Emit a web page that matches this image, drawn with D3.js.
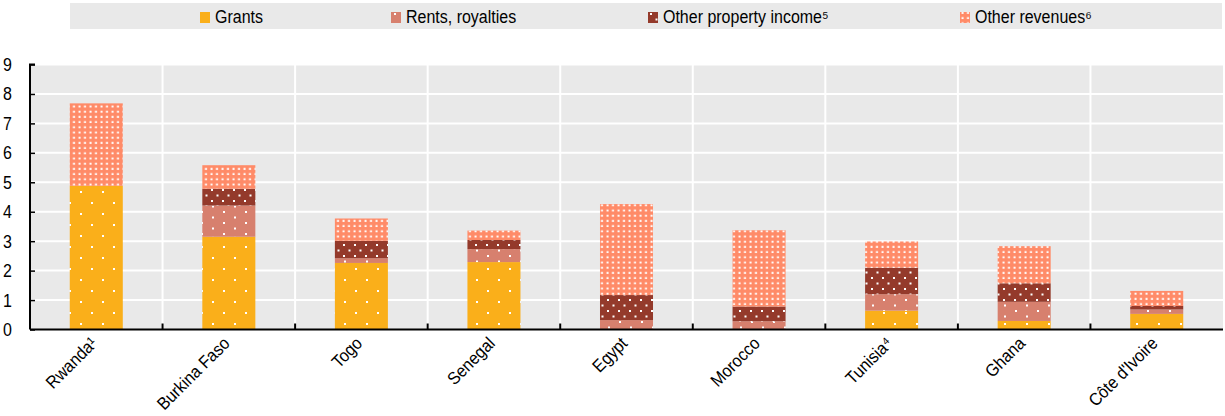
<!DOCTYPE html>
<html><head><meta charset="utf-8">
<script src="https://cdn.jsdelivr.net/npm/d3@7"></script>
<style>body{margin:0;background:#fff;font-family:"Liberation Sans",Arial,sans-serif}</style>
</head><body><svg id="c" width="1225" height="416"></svg>
<script>
const categories = ["Rwanda¹","Burkina Faso","Togo","Senegal","Egypt","Morocco","Tunisia⁴","Ghana","Côte d'Ivoire"];
const seriesNames = ["Grants","Rents, royalties","Other property income⁵","Other revenues⁶"];
const grants       = [4.88,3.15,2.26,2.29,0.00,0.00,0.64,0.29,0.53];
const rents        = [0.00,1.06,0.16,0.44,0.32,0.28,0.56,0.65,0.15];
const propIncome   = [0.00,0.57,0.59,0.31,0.85,0.50,0.90,0.63,0.12];
const otherRev     = [2.80,0.80,0.76,0.32,3.09,2.59,0.89,1.26,0.51];
const yTicks = [0,1,2,3,4,5,6,7,8,9];
const colors = ["#FAAF1A","#D7806E","#943A2B","#FF8B68"];

const svg = d3.select("#c");
const defs = svg.append("defs");
function pat(id, color, w, h, dots, r){
  const p = defs.append("pattern").attr("id",id).attr("patternUnits","userSpaceOnUse")
    .attr("width",w).attr("height",h);
  p.append("rect").attr("width",w).attr("height",h).attr("fill",color);
  dots.forEach(d=>p.append("rect").attr("x",d[0]).attr("y",d[1]).attr("width",r).attr("height",r).attr("fill","#fff"));
}
pat("p0",colors[0],22,22,[[3,4],[14,15]],2);
pat("p1",colors[1],22,11,[[3,2],[14,7.5]],2);
pat("p2",colors[2],11,11,[[2,2],[7.5,7.5]],2);
pat("p3",colors[3],5.5,5.2,[[1.5,1.5]],2);

const pL=30, pR=1223, pT=64.5, pB=329.5;
const x = d3.scaleBand().domain(categories).range([pL,pR]).paddingInner(0).paddingOuter(0);
const y = d3.scaleLinear().domain([0,9]).range([pB,pT]);

svg.append("rect").attr("x",pL).attr("y",pT).attr("width",pR-pL).attr("height",pB-pT).attr("fill","#E9E9E9");
svg.append("g").selectAll("line").data(yTicks.slice(1)).join("line")
  .attr("x1",pL).attr("x2",pR).attr("y1",d=>y(d)).attr("y2",d=>y(d))
  .attr("stroke","#fff").attr("stroke-width",2);
svg.append("g").selectAll("line").data(categories.slice(1)).join("line")
  .attr("x1",d=>x(d)).attr("x2",d=>x(d)).attr("y1",pT).attr("y2",pB)
  .attr("stroke","#fff").attr("stroke-width",2);

const rows = categories.map((c,i)=>({cat:c, s0:grants[i], s1:rents[i], s2:propIncome[i], s3:otherRev[i]}));
const stack = d3.stack().keys(["s0","s1","s2","s3"])(rows);
const bw = x.bandwidth()*0.4;
stack.forEach((layer,k)=>{
  svg.append("g").selectAll("rect").data(layer).join("rect")
    .attr("x",d=>x(d.data.cat)+(x.bandwidth()-bw)/2)
    .attr("width",bw)
    .attr("y",d=>y(d[1]))
    .attr("height",d=>Math.max(0,y(d[0])-y(d[1])))
    .attr("fill",`url(#p${k})`);
});

const yAxis = d3.axisLeft(y).tickValues(yTicks).tickSize(-5).tickPadding(18).tickFormat(d3.format("d"));
const gy = svg.append("g").attr("transform",`translate(${pL},0)`).call(yAxis);
gy.select(".domain").attr("stroke","#000").attr("stroke-width",2).attr("d",`M5,${pT}H0V${pB}`);
gy.selectAll(".tick line").attr("stroke","#000").attr("stroke-width",1.5);
gy.selectAll("text").attr("font-size",16).attr("fill","#000").attr("font-family","Liberation Sans, Arial")
  .attr("dy",null).attr("y",null)
  .attr("transform",function(){return "translate(0,6) scale(1,1.12)";});

const xAxis = d3.axisBottom(x).tickSize(0).tickFormat("");
const gx = svg.append("g").attr("transform",`translate(0,${pB})`).call(xAxis);
gx.select(".domain").attr("stroke","#000").attr("stroke-width",2).attr("d",`M${pL},0H${pR}`);
svg.append("g").selectAll("line").data(categories.slice(1)).join("line")
  .attr("x1",d=>x(d)).attr("x2",d=>x(d)).attr("y1",pB-6).attr("y2",pB)
  .attr("stroke","#000").attr("stroke-width",2);
svg.append("g").selectAll("text").data(categories).join("text")
  .attr("transform",d=>`translate(${x(d)+x.bandwidth()/2+2},${pB+15}) rotate(-45) scale(1,1.1)`)
  .attr("text-anchor","end").attr("font-size",16).attr("fill","#000")
  .text(d=>d);

svg.append("rect").attr("x",70).attr("y",3).attr("width",1152).attr("height",26).attr("fill","#E9E9E9");
const lx = [200,391,648,960];
const lg = svg.append("g").selectAll("g").data(seriesNames).join("g")
  .attr("transform",(d,i)=>`translate(${lx[i]},0)`);
lg.append("rect").attr("x",0).attr("y",12).attr("width",10).attr("height",11).attr("fill",(d,i)=>`url(#p${i})`);
lg.append("text").attr("x",15).attr("y",0).attr("font-size",16).attr("fill","#000")
  .attr("transform","translate(0,23) scale(1,1.12)").text(d=>d);
</script></body></html>
